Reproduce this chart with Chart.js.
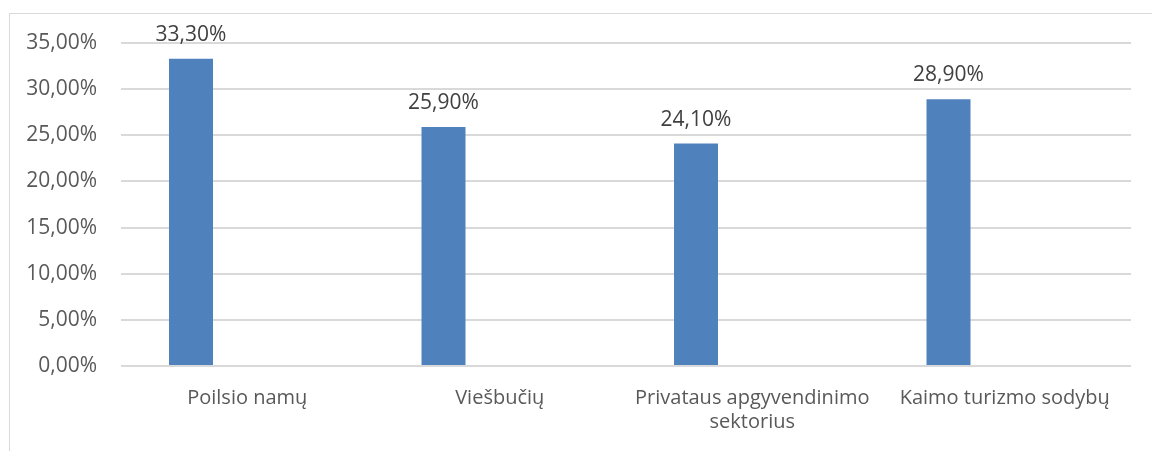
<!DOCTYPE html>
<html>
<head>
<meta charset="utf-8">
<script src="https://cdn.jsdelivr.net/npm/chart.js@4/dist/chart.umd.min.js"></script>
<style>
  html, body { margin: 0; padding: 0; background: #fff; }
  #wrap { position: relative; width: 1152px; height: 451px; overflow: hidden; }
  #frame { position: absolute; left: 9px; top: 13px; width: 1200px; height: 500px; border: 1px solid #d9d9d9; box-sizing: border-box; }
  canvas { position: absolute; left: 0; top: 0; }
</style>
</head>
<body>
<div id="wrap">
  <div id="frame"></div>
  <canvas id="c" width="1152" height="451"></canvas>
</div>
<script>
const categories = [["Poilsio namų"], ["Viešbučių"], ["Privataus apgyvendinimo", "sektorius"], ["Kaimo turizmo sodybų"]];
const values = [0.333, 0.259, 0.241, 0.289];
const emptySeries = [null, null, null, null];
const yTicks = [0, 0.05, 0.10, 0.15, 0.20, 0.25, 0.30, 0.35];

const FONT = "'Open Sans', 'Liberation Sans', sans-serif";
const fmt = v => (v * 100).toFixed(2).replace('.', ',') + '%';

const dataLabels = {
  id: 'dataLabels',
  afterDatasetsDraw(chart) {
    const ctx = chart.ctx;
    const meta = chart.getDatasetMeta(0);
    ctx.save();
    ctx.font = "21px " + FONT;
    ctx.fillStyle = '#404040';
    ctx.textAlign = 'center';
    ctx.textBaseline = 'alphabetic';
    meta.data.forEach((bar, i) => {
      ctx.fillText(fmt(values[i]), bar.x, bar.y - 18);
    });
    ctx.restore();
  }
};

new Chart(document.getElementById('c'), {
  type: 'bar',
  data: {
    labels: categories,
    datasets: [
      { data: values, backgroundColor: '#4F81BD', borderWidth: 0, categoryPercentage: 0.891, barPercentage: 0.391 },
      { data: emptySeries, backgroundColor: '#C0504D', borderWidth: 0, categoryPercentage: 0.891, barPercentage: 0.391 }
    ]
  },
  options: {
    responsive: false,
    animation: false,
    layout: { padding: { left: 0, right: 21, top: 43, bottom: 0 } },
    plugins: { legend: { display: false }, tooltip: { enabled: false } },
    scales: {
      x: {
        grid: { display: false, drawTicks: false },
        border: { display: false },
        ticks: { color: '#595959', font: { family: FONT, size: 20, lineHeight: 1.2 }, padding: 20, maxRotation: 0, autoSkip: false },
        afterFit(scale) { scale.height = 85; }
      },
      y: {
        min: 0, max: 0.35,
        afterBuildTicks(scale) { scale.ticks = yTicks.map(v => ({ value: v })); },
        grid: { color: '#d9d9d9', lineWidth: 2, drawTicks: false },
        border: { display: false },
        ticks: { color: '#595959', font: { family: FONT, size: 21 }, padding: 24, callback: v => fmt(v) },
        afterFit(scale) { scale.width = 121; }
      }
    }
  },
  plugins: [dataLabels]
});
</script>
</body>
</html>
